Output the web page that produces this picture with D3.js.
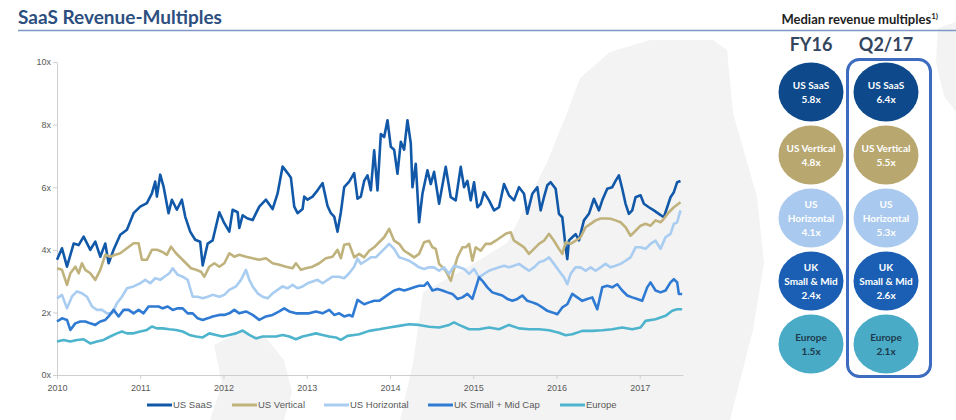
<!DOCTYPE html>
<html>
<head>
<meta charset="utf-8">
<script src="https://cdn.jsdelivr.net/npm/d3@7"></script>
<style>
  html, body { margin: 0; padding: 0; background: #fff; }
  svg { display: block; }
</style>
</head>
<body>
<div id="chart"></div>
<script>
const width = 956;
const height = 420;

// series: [decimal year, revenue multiple]
const usSaas = [
  [2010.00,3.68],[2010.06,4.05],[2010.12,3.46],[2010.20,4.2],[2010.26,4.15],[2010.32,4.42],[2010.40,4.0],[2010.46,4.26],
  [2010.52,3.78],[2010.58,4.2],[2010.62,3.57],[2010.68,4.0],[2010.76,4.48],[2010.84,4.64],[2010.92,5.17],[2011.00,5.38],
  [2011.08,5.49],[2011.14,5.8],[2011.18,6.18],[2011.20,5.7],[2011.24,6.4],[2011.28,6.02],[2011.34,5.17],[2011.38,5.6],
  [2011.44,5.28],[2011.50,5.6],[2011.54,5.06],[2011.60,4.58],[2011.66,4.32],[2011.72,4.26],[2011.75,3.5],[2011.81,4.2],
  [2011.87,4.3],[2011.95,5.2],[2012.01,4.85],[2012.07,4.58],[2012.11,5.28],[2012.17,5.2],[2012.19,4.7],[2012.23,5.1],
  [2012.29,5.0],[2012.35,4.95],[2012.43,5.38],[2012.51,5.6],[2012.59,5.3],[2012.65,5.8],[2012.71,6.66],[2012.77,6.45],
  [2012.81,6.3],[2012.85,5.38],[2012.89,5.17],[2012.95,5.3],[2012.97,5.7],[2013.01,5.6],[2013.07,5.7],[2013.13,5.9],
  [2013.19,6.13],[2013.25,5.4],[2013.29,5.17],[2013.33,5.06],[2013.37,4.58],[2013.41,5.2],[2013.45,6.0],[2013.51,6.18],
  [2013.57,6.45],[2013.61,5.63],[2013.65,5.7],[2013.69,6.2],[2013.73,6.38],[2013.77,5.9],[2013.81,7.18],[2013.85,5.9],
  [2013.89,7.7],[2013.93,7.6],[2013.97,8.14],[2014.01,7.29],[2014.05,7.2],[2014.09,6.43],[2014.13,7.45],[2014.17,7.2],
  [2014.21,8.14],[2014.25,7.4],[2014.27,6.0],[2014.31,6.75],[2014.35,4.88],[2014.39,5.79],[2014.45,6.54],[2014.49,6.1],
  [2014.53,6.49],[2014.59,5.47],[2014.67,6.65],[2014.73,5.68],[2014.79,5.58],[2014.85,6.65],[2014.89,6.0],[2014.93,6.2],
  [2014.97,5.58],[2015.01,6.16],[2015.05,5.36],[2015.09,5.47],[2015.13,5.84],[2015.19,5.58],[2015.25,5.26],[2015.31,5.36],
  [2015.37,6.1],[2015.43,5.74],[2015.49,5.58],[2015.55,6.0],[2015.61,5.79],[2015.65,5.15],[2015.71,5.79],[2015.77,6.0],
  [2015.81,5.26],[2015.85,5.68],[2015.89,6.06],[2015.93,6.16],[2015.99,5.95],[2016.03,5.15],[2016.07,5.04],[2016.11,4.08],
  [2016.13,3.7],[2016.15,4.3],[2016.19,4.4],[2016.23,4.5],[2016.27,4.3],[2016.33,4.94],[2016.39,5.15],[2016.45,5.63],
  [2016.51,5.26],[2016.55,5.58],[2016.61,5.95],[2016.67,6.0],[2016.71,6.2],[2016.75,6.38],[2016.79,5.95],[2016.83,5.47],
  [2016.87,5.15],[2016.91,5.26],[2016.95,5.68],[2017.01,5.74],[2017.05,5.47],[2017.11,5.36],[2017.17,5.26],[2017.23,5.15],
  [2017.29,5.04],[2017.33,5.36],[2017.37,5.68],[2017.41,5.84],[2017.45,6.16],[2017.49,6.2]
];

const usVertical = [
  [2010.00,3.41],[2010.06,3.36],[2010.12,2.88],[2010.16,3.25],[2010.22,3.46],[2010.26,3.25],[2010.30,3.57],[2010.34,3.36],
  [2010.40,3.25],[2010.46,3.04],[2010.52,3.36],[2010.58,3.84],[2010.64,3.78],[2010.70,3.84],[2010.76,3.89],[2010.84,4.05],
  [2010.92,4.21],[2010.98,4.21],[2011.02,3.68],[2011.08,3.68],[2011.14,4.0],[2011.20,4.0],[2011.26,3.94],[2011.32,3.84],
  [2011.37,4.1],[2011.43,3.89],[2011.49,3.73],[2011.55,3.57],[2011.61,3.41],[2011.67,3.36],[2011.73,3.3],[2011.77,3.14],
  [2011.83,3.46],[2011.89,3.57],[2011.95,3.46],[2012.01,3.57],[2012.07,3.89],[2012.13,3.78],[2012.19,3.84],[2012.27,3.78],
  [2012.35,3.73],[2012.43,3.68],[2012.51,3.73],[2012.59,3.57],[2012.67,3.52],[2012.75,3.46],[2012.83,3.41],[2012.87,3.57],
  [2012.93,3.36],[2012.99,3.41],[2013.07,3.46],[2013.15,3.57],[2013.23,3.73],[2013.31,3.78],[2013.37,4.0],[2013.41,3.73],
  [2013.45,4.16],[2013.51,4.19],[2013.57,3.76],[2013.63,3.87],[2013.69,3.76],[2013.75,3.97],[2013.81,4.08],[2013.87,4.24],
  [2013.93,4.4],[2013.99,4.67],[2014.05,4.29],[2014.11,4.19],[2014.17,3.97],[2014.23,3.87],[2014.29,3.76],[2014.35,3.87],
  [2014.41,4.24],[2014.47,4.29],[2014.51,4.08],[2014.55,4.03],[2014.59,3.55],[2014.65,3.39],[2014.69,3.23],[2014.73,3.01],
  [2014.77,3.39],[2014.81,3.76],[2014.87,4.08],[2014.91,4.08],[2014.95,4.19],[2014.99,3.65],[2015.03,4.08],[2015.09,3.97],
  [2015.15,4.19],[2015.21,4.19],[2015.27,4.29],[2015.33,4.4],[2015.39,4.51],[2015.45,4.56],[2015.49,4.29],[2015.55,4.19],
  [2015.61,4.08],[2015.67,3.87],[2015.73,4.03],[2015.79,4.19],[2015.85,4.29],[2015.91,4.51],[2015.97,4.29],[2016.03,4.03],
  [2016.07,3.87],[2016.11,4.24],[2016.17,4.19],[2016.23,4.29],[2016.29,4.4],[2016.35,4.72],[2016.41,4.83],[2016.47,4.94],
  [2016.53,5.0],[2016.59,5.0],[2016.65,4.99],[2016.71,4.94],[2016.77,4.88],[2016.83,4.72],[2016.89,4.45],[2016.95,4.61],
  [2017.01,4.77],[2017.07,4.83],[2017.13,4.77],[2017.19,4.94],[2017.25,4.88],[2017.29,4.99],[2017.35,5.2],[2017.41,5.36],
  [2017.49,5.52]
];

const usHorizontal = [
  [2010.00,2.45],[2010.06,2.56],[2010.12,2.13],[2010.18,2.51],[2010.24,2.67],[2010.30,2.61],[2010.36,2.5],[2010.42,2.19],
  [2010.48,2.08],[2010.54,2.08],[2010.60,1.97],[2010.66,1.97],[2010.72,2.29],[2010.78,2.5],[2010.84,2.77],[2010.92,2.83],
  [2011.00,2.93],[2011.06,3.04],[2011.12,2.93],[2011.18,3.09],[2011.24,3.04],[2011.29,3.14],[2011.35,3.25],[2011.39,3.41],
  [2011.45,3.2],[2011.51,3.14],[2011.57,3.04],[2011.63,2.5],[2011.69,2.5],[2011.75,2.45],[2011.81,2.5],[2011.87,2.56],
  [2011.95,2.5],[2012.01,2.56],[2012.07,2.72],[2012.15,2.83],[2012.21,3.04],[2012.27,3.36],[2012.31,3.04],[2012.35,2.83],
  [2012.41,2.61],[2012.47,2.5],[2012.53,2.45],[2012.59,2.61],[2012.65,2.72],[2012.71,2.83],[2012.77,2.77],[2012.83,2.88],
  [2012.89,2.77],[2012.95,2.83],[2013.01,2.93],[2013.07,2.99],[2013.13,3.04],[2013.19,2.93],[2013.25,3.04],[2013.31,3.14],
  [2013.39,3.14],[2013.45,3.09],[2013.51,3.25],[2013.57,3.46],[2013.61,3.72],[2013.65,3.55],[2013.71,3.65],[2013.77,3.76],
  [2013.83,3.76],[2013.89,3.92],[2013.95,4.08],[2013.99,4.19],[2014.05,4.03],[2014.11,3.76],[2014.17,3.71],[2014.23,3.65],
  [2014.29,3.55],[2014.35,3.44],[2014.41,3.39],[2014.47,3.44],[2014.53,3.44],[2014.59,3.33],[2014.65,3.44],[2014.71,3.23],
  [2014.77,3.49],[2014.83,3.44],[2014.89,3.39],[2014.95,3.23],[2015.01,3.39],[2015.07,3.12],[2015.13,3.23],[2015.19,3.33],
  [2015.25,3.39],[2015.31,3.44],[2015.37,3.49],[2015.43,3.44],[2015.49,3.49],[2015.55,3.55],[2015.61,3.44],[2015.67,3.33],
  [2015.73,3.44],[2015.79,3.6],[2015.85,3.65],[2015.91,3.76],[2015.97,3.55],[2016.03,3.33],[2016.09,3.12],[2016.13,2.9],
  [2016.17,3.23],[2016.23,3.44],[2016.29,3.44],[2016.35,3.33],[2016.41,3.44],[2016.47,3.33],[2016.53,3.44],[2016.59,3.55],
  [2016.65,3.44],[2016.71,3.49],[2016.77,3.55],[2016.83,3.65],[2016.89,3.76],[2016.95,4.08],[2017.01,4.08],[2017.07,4.03],
  [2017.13,4.19],[2017.19,4.29],[2017.25,4.03],[2017.31,4.4],[2017.37,4.51],[2017.41,4.83],[2017.45,4.88],[2017.49,5.26]
];

const ukSmallMid = [
  [2010.00,1.71],[2010.06,1.81],[2010.12,1.76],[2010.16,1.44],[2010.22,1.65],[2010.28,1.71],[2010.34,1.71],[2010.40,1.65],
  [2010.46,1.6],[2010.52,1.71],[2010.58,1.76],[2010.62,1.87],[2010.68,2.08],[2010.74,1.87],[2010.80,2.08],[2010.86,2.08],
  [2010.92,1.97],[2010.98,2.08],[2011.04,1.97],[2011.10,2.19],[2011.16,2.19],[2011.22,2.19],[2011.27,2.13],[2011.33,2.19],
  [2011.39,2.08],[2011.45,2.13],[2011.51,2.13],[2011.57,1.97],[2011.63,1.97],[2011.69,1.81],[2011.75,1.76],[2011.81,1.81],
  [2011.87,1.87],[2011.95,1.92],[2012.01,1.92],[2012.07,1.97],[2012.13,2.08],[2012.19,1.97],[2012.27,2.03],[2012.35,1.92],
  [2012.43,1.76],[2012.51,1.87],[2012.59,1.92],[2012.67,2.03],[2012.73,2.13],[2012.79,2.03],[2012.87,1.97],[2012.95,1.97],
  [2013.03,1.97],[2013.11,2.03],[2013.19,1.97],[2013.27,2.08],[2013.33,1.92],[2013.39,1.97],[2013.45,1.87],[2013.51,1.92],
  [2013.55,1.87],[2013.61,2.4],[2013.69,2.26],[2013.75,2.32],[2013.81,2.37],[2013.87,2.37],[2013.93,2.48],[2013.99,2.59],
  [2014.05,2.7],[2014.11,2.75],[2014.17,2.7],[2014.23,2.75],[2014.29,2.8],[2014.35,2.85],[2014.41,2.85],[2014.45,2.96],
  [2014.51,2.7],[2014.57,2.75],[2014.63,2.7],[2014.69,2.64],[2014.75,2.59],[2014.81,2.43],[2014.87,2.48],[2014.93,2.59],
  [2014.99,2.43],[2015.07,3.12],[2015.11,3.01],[2015.17,2.8],[2015.23,2.64],[2015.29,2.59],[2015.35,2.54],[2015.41,2.43],
  [2015.47,2.37],[2015.53,2.43],[2015.59,2.54],[2015.65,2.37],[2015.71,2.32],[2015.77,2.26],[2015.83,2.16],[2015.89,2.05],
  [2015.95,2.0],[2016.01,1.94],[2016.07,2.16],[2016.13,2.26],[2016.19,2.59],[2016.25,2.48],[2016.31,2.37],[2016.37,2.43],
  [2016.43,2.48],[2016.49,2.1],[2016.55,2.8],[2016.61,2.85],[2016.67,2.8],[2016.73,2.9],[2016.79,2.7],[2016.85,2.54],
  [2016.91,2.48],[2016.97,2.43],[2017.03,2.37],[2017.09,2.8],[2017.13,2.96],[2017.19,2.7],[2017.25,2.64],[2017.31,2.7],
  [2017.37,2.96],[2017.41,3.06],[2017.45,2.96],[2017.47,2.59],[2017.51,2.59]
];

const europe = [
  [2010.00,1.07],[2010.08,1.12],[2010.16,1.07],[2010.24,1.12],[2010.32,1.14],[2010.40,1.01],[2010.48,1.07],[2010.56,1.12],
  [2010.64,1.23],[2010.72,1.33],[2010.78,1.39],[2010.84,1.33],[2010.92,1.33],[2011.00,1.39],[2011.08,1.44],[2011.14,1.55],
  [2011.20,1.49],[2011.27,1.49],[2011.35,1.46],[2011.43,1.44],[2011.51,1.39],[2011.59,1.28],[2011.67,1.23],[2011.75,1.2],
  [2011.83,1.33],[2011.91,1.28],[2011.99,1.23],[2012.07,1.28],[2012.15,1.33],[2012.23,1.42],[2012.31,1.28],[2012.39,1.17],
  [2012.47,1.23],[2012.55,1.23],[2012.63,1.23],[2012.71,1.28],[2012.79,1.23],[2012.87,1.14],[2012.95,1.23],[2013.03,1.28],
  [2013.11,1.33],[2013.19,1.28],[2013.27,1.23],[2013.35,1.2],[2013.41,1.12],[2013.49,1.25],[2013.57,1.28],[2013.63,1.3],
  [2013.75,1.41],[2013.87,1.46],[2013.99,1.52],[2014.11,1.57],[2014.23,1.62],[2014.35,1.6],[2014.47,1.54],[2014.59,1.52],
  [2014.71,1.6],[2014.77,1.68],[2014.83,1.6],[2014.95,1.46],[2015.07,1.46],[2015.19,1.52],[2015.31,1.46],[2015.43,1.6],
  [2015.55,1.49],[2015.67,1.46],[2015.79,1.46],[2015.91,1.43],[2016.03,1.35],[2016.11,1.27],[2016.19,1.3],[2016.31,1.41],
  [2016.43,1.41],[2016.55,1.43],[2016.67,1.46],[2016.79,1.52],[2016.91,1.46],[2017.01,1.52],[2017.07,1.73],[2017.19,1.78],
  [2017.31,1.89],[2017.39,2.05],[2017.45,2.1],[2017.51,2.1]
];

const seriesNames = ["US SaaS", "US Vertical", "US Horizontal", "UK Small + Mid Cap", "Europe"];
const seriesData = [usSaas, usVertical, usHorizontal, ukSmallMid, europe];
const seriesColors = ["#1159a8", "#c0b27c", "#a9ccf1", "#2f7ad3", "#4eb4cd"];

const yearTicks = [2010, 2011, 2012, 2013, 2014, 2015, 2016, 2017];
const multipleTicks = [0, 2, 4, 6, 8, 10];

// right panel
const panelColumns = ["FY16", "Q2/17"];
const panelLabels = [["US SaaS"], ["US Vertical"], ["US", "Horizontal"], ["UK", "Small & Mid"], ["Europe"]];
const fy16Values = [5.8, 4.8, 4.1, 2.4, 1.5];
const q217Values = [6.4, 5.5, 5.3, 2.6, 2.1];
const panelFill = ["#0e4a8b", "#b8a76f", "#a9c9ee", "#1b5fb4", "#4aabc7"];
const panelText = ["#ffffff", "#ffffff", "#ffffff", "#ffffff", "#1d3a4c"];

const svg = d3.select("#chart")
  .append("svg")
  .attr("width", width)
  .attr("height", height);

// faint map of northern Europe behind everything
const mapShapes = [
  [[567,113],[580,78],[610,52],[650,40],[713,40],[727,50],[733,113],[757,197],[764,263],[753,330],[730,420],
   [400,420],[413,363],[423,292],[463,270],[507,243],[527,203],[548,160]],
  [[214,345],[240,332],[266,338],[284,360],[292,392],[284,420],[210,420],[222,384]],
  [[938,28],[956,22],[956,112],[944,96],[936,62]]
];
svg.append("g")
  .selectAll("path")
  .data(mapShapes)
  .join("path")
  .attr("d", d => d3.line().curve(d3.curveLinearClosed)(d))
  .attr("fill", "#f3f3f3");

// title + rule
svg.append("text")
  .attr("x", 18)
  .attr("y", 24)
  .attr("font-family", "Lato, 'Open Sans', sans-serif")
  .attr("font-weight", "bold")
  .attr("font-size", 19)
  .attr("fill", "#2d4f7f")
  .text("SaaS Revenue-Multiples");

svg.append("line")
  .attr("x1", 18).attr("x2", width)
  .attr("y1", 30.5).attr("y2", 30.5)
  .attr("stroke", "#7d98c4")
  .attr("stroke-width", 1.6);

const sub = svg.append("text")
  .attr("x", 938)
  .attr("y", 24)
  .attr("text-anchor", "end")
  .attr("font-family", "Lato, 'Open Sans', sans-serif")
  .attr("font-weight", "bold")
  .attr("font-size", 13)
  .attr("fill", "#1e1e1e");
sub.append("tspan").text("Median revenue multiples");
sub.append("tspan").attr("dy", -5).attr("font-size", 8).text("1)");

// scales
const x = d3.scaleLinear()
  .domain([2010, 2017.52])
  .range([57, 683]);

const y = d3.scaleLinear()
  .domain([0, 10])
  .range([375, 62]);

// axes
const xAxis = svg.append("g")
  .attr("transform", `translate(0,${y(0)})`)
  .call(d3.axisBottom(x).tickValues(yearTicks).tickFormat(d3.format("d")).tickSize(4).tickSizeOuter(0));

const yAxis = svg.append("g")
  .attr("transform", `translate(${x(2010)},0)`)
  .call(d3.axisLeft(y).tickValues(multipleTicks).tickFormat(d => d + "x").tickSize(4).tickSizeOuter(0));

[xAxis, yAxis].forEach(g => {
  g.select(".domain").attr("stroke", "#cfcfcf");
  g.selectAll(".tick line").attr("stroke", "#cfcfcf");
  g.selectAll(".tick text")
    .attr("fill", "#595959")
    .attr("font-size", 9)
    .attr("font-family", "'Liberation Sans', Arial, sans-serif");
});
xAxis.selectAll(".tick text").attr("dy", "1.05em");
yAxis.selectAll(".tick text").attr("x", -6);

// lines
const line = d3.line()
  .x(d => x(d[0]))
  .y(d => y(d[1]));

svg.append("g")
  .selectAll("path")
  .data(seriesData)
  .join("path")
  .attr("d", line)
  .attr("fill", "none")
  .attr("stroke", (d, i) => seriesColors[i])
  .attr("stroke-width", 2.6)
  .attr("stroke-linejoin", "round");

// legend
const legendX = [147, 232, 324, 428, 560];
const legend = svg.append("g")
  .selectAll("g")
  .data(seriesNames)
  .join("g")
  .attr("transform", (d, i) => `translate(${legendX[i]},405)`);

legend.append("line")
  .attr("x1", 0).attr("x2", 25)
  .attr("stroke", (d, i) => seriesColors[i])
  .attr("stroke-width", 3);

legend.append("text")
  .attr("x", 26)
  .attr("dy", "0.35em")
  .attr("font-size", 9.5)
  .attr("font-family", "'Liberation Sans', Arial, sans-serif")
  .attr("fill", "#595959")
  .text(d => d);

// right panel
const colX = [811, 886];
const rowY = d3.scaleLinear().domain([0, 4]).range([92, 344]);

svg.append("rect")
  .attr("x", 847.5).attr("y", 59.5)
  .attr("width", 83).attr("height", 317)
  .attr("rx", 12)
  .attr("fill", "none")
  .attr("stroke", "#3c6bbf")
  .attr("stroke-width", 3);

svg.append("g")
  .selectAll("text")
  .data(panelColumns)
  .join("text")
  .attr("x", (d, i) => colX[i])
  .attr("y", 51)
  .attr("text-anchor", "middle")
  .attr("font-family", "Lato, 'Open Sans', sans-serif")
  .attr("font-weight", "bold")
  .attr("font-size", 18)
  .attr("fill", "#34465e")
  .text(d => d);

[fy16Values, q217Values].forEach((vals, c) => {
  const g = svg.append("g")
    .selectAll("g")
    .data(vals)
    .join("g")
    .attr("transform", (d, i) => `translate(${colX[c]},${rowY(i)})`);

  g.append("ellipse")
    .attr("rx", 32.5)
    .attr("ry", 29.5)
    .attr("fill", (d, i) => panelFill[i]);

  g.each(function (v, i) {
    const lines = panelLabels[i].concat([v.toFixed(1) + "x"]);
    d3.select(this).selectAll("text")
      .data(lines)
      .join("text")
      .attr("y", (t, k) => (k - (lines.length - 1) / 2) * 14)
      .attr("dy", "0.35em")
      .attr("text-anchor", "middle")
      .attr("font-family", "Lato, 'Open Sans', sans-serif")
      .attr("font-weight", "bold")
      .attr("font-size", 10)
      .attr("fill", panelText[i])
      .text(t => t);
  });
});
</script>
</body>
</html>
